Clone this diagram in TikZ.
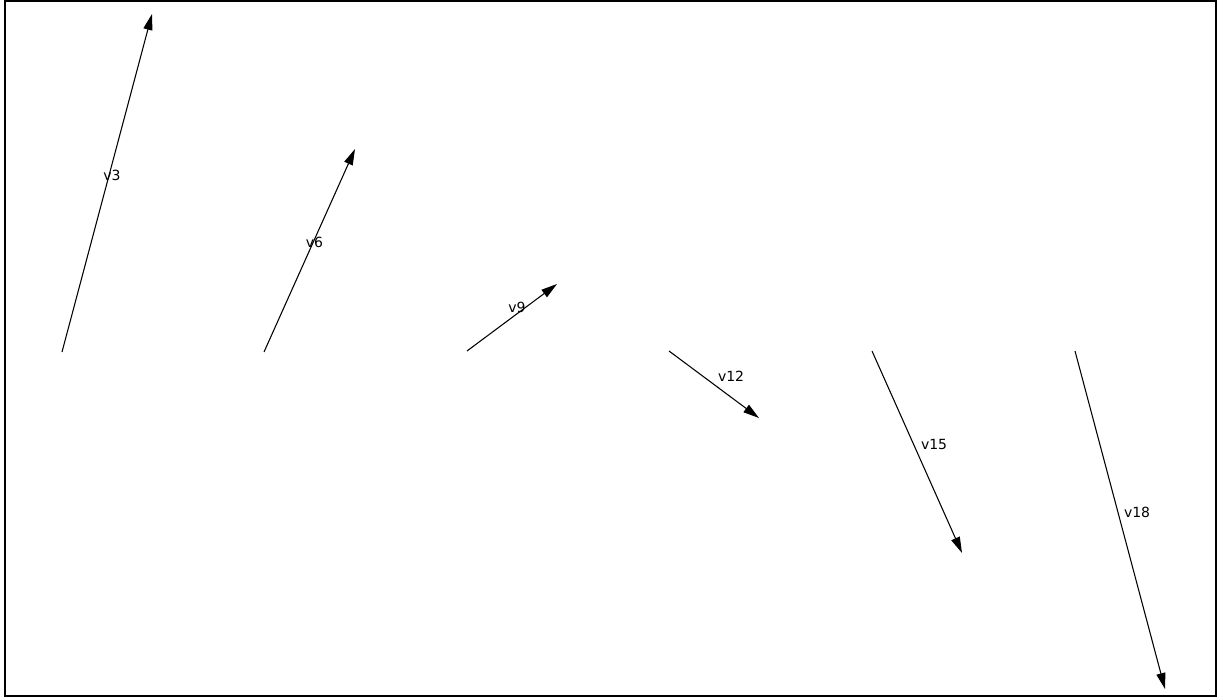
\documentclass[tikz,border=0pt]{standalone}
\usepackage{fontspec}
\setmainfont{DejaVu Sans}
\usetikzlibrary{arrows.meta}
\begin{document}
\begin{tikzpicture}[x=0.75pt,y=-0.75pt,
  vec/.style={line width=0.8pt,-{Triangle[length=12pt,width=6.8pt]}},
  lbl/.style={midway,anchor=base west,inner sep=0pt,yshift=2pt,font=\fontsize{10.5pt}{12pt}\selectfont},
  lblup/.style={lbl,xshift=-3.2pt},
  lbldn/.style={lbl,xshift=2.6pt}]
\useasboundingbox (0,0) rectangle (1217,698);
\draw[line width=1.5pt] (5,1.5) rectangle (1216,696);
\coordinate (a3) at (62,352);   \coordinate (b3) at (152,14);
\coordinate (a6) at (264,352);  \coordinate (b6) at (355,149);
\coordinate (a9) at (467,351);  \coordinate (b9) at (557,284);
\coordinate (a12) at (669,351); \coordinate (b12) at (759,418);
\coordinate (a15) at (872,351); \coordinate (b15) at (962,553);
\coordinate (a18) at (1075,351);\coordinate (b18) at (1165,689);
\draw[vec] (a3) -- node[lblup] {v3} (b3);
\draw[vec] (a6) -- node[lblup] {v6} (b6);
\draw[vec] (a9) -- node[lblup,yshift=2pt] {v9} (b9);
\draw[vec] (a12) -- node[lbldn] {v12} (b12);
\draw[vec] (a15) -- node[lbldn] {v15} (b15);
\draw[vec] (a18) -- node[lbldn] {v18} (b18);
\end{tikzpicture}
\end{document}
